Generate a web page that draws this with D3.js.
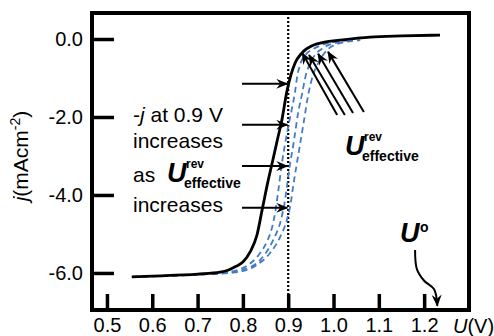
<!DOCTYPE html>
<html>
<head>
<meta charset="utf-8">
<script src="https://cdn.jsdelivr.net/npm/d3@7"></script>
<style>
  body { margin: 0; background: #fff; }
  svg { font-family: "Liberation Sans", Arial, Helvetica, sans-serif; }
</style>
</head>
<body>
<div id="chart"></div>
<script>
const w = 494, h = 336;

// tick values
const uTicks = [0.5, 0.6, 0.7, 0.8, 0.9, 1.0, 1.1, 1.2];
const jTicks = [0, -2, -4, -6];

// black solid curve
const blackU = [0.555, 0.60, 0.70, 0.75, 0.767, 0.785, 0.80, 0.816, 0.831, 0.843, 0.855, 0.866, 0.877, 0.886, 0.897, 0.906, 0.915, 0.93, 0.955, 0.98, 1.014, 1.081, 1.15, 1.235];
const blackJ = [-6.10, -6.08, -6.03, -5.98, -5.93, -5.83, -5.72, -5.46, -5.03, -4.35, -3.67, -3.11, -2.54, -2.08, -1.35, -0.92, -0.62, -0.36, -0.16, -0.08, -0.03, 0.05, 0.08, 0.10];

// blue dashed curves
const blue1U = [0.555, 0.70, 0.75, 0.78, 0.80, 0.82, 0.838, 0.852, 0.864, 0.872, 0.878, 0.886, 0.900, 0.908, 0.915, 0.920, 0.928, 0.940, 0.955, 0.975, 1.0, 1.03];
const blue1J = [-6.10, -6.04, -6.00, -5.95, -5.87, -5.72, -5.49, -5.22, -4.85, -4.40, -3.90, -3.20, -2.25, -1.80, -1.36, -0.95, -0.60, -0.38, -0.26, -0.15, -0.08, -0.04];
const blue2U = [0.555, 0.70, 0.76, 0.80, 0.838, 0.867, 0.884, 0.893, 0.902, 0.913, 0.921, 0.930, 0.939, 0.952, 0.977, 1.014];
const blue2J = [-6.10, -6.04, -6.00, -5.92, -5.67, -5.15, -4.64, -4.13, -3.36, -2.59, -1.95, -1.44, -0.92, -0.54, -0.23, -0.08];
const blue3U = [0.555, 0.70, 0.76, 0.794, 0.83, 0.860, 0.882, 0.897, 0.904, 0.913, 0.924, 0.935, 0.944, 0.955, 0.970, 1.003, 1.059];
const blue3J = [-6.10, -6.04, -6.01, -5.97, -5.80, -5.49, -5.08, -4.64, -4.31, -3.62, -2.85, -2.08, -1.44, -0.92, -0.54, -0.15, -0.03];

// annotation arrows (data units)
const hArrowJ = [-1.15, -2.2, -3.26, -4.33];
const hArrowFromU = 0.798, hArrowToU = 0.898;
const dTailU = [1.008, 1.025, 1.043, 1.067];
const dTailJ = [-1.95, -1.95, -1.90, -1.87];
const dTipU = [0.931, 0.946, 0.966, 0.988];
const dTipJ = [-0.36, -0.41, -0.38, -0.33];
const u0ArrowU = [1.180, 1.184, 1.200, 1.222, 1.229];
const u0ArrowJ = [-5.41, -5.90, -6.20, -6.42, -6.84];

const x = d3.scaleLinear().domain([0.467, 1.299]).range([92, 469]);
const y = d3.scaleLinear().domain([-6.95, 0.667]).range([310, 13]);

const svg = d3.select("#chart").append("svg").attr("width", w).attr("height", h);

svg.append("defs").append("marker")
  .attr("id", "head")
  .attr("markerUnits", "userSpaceOnUse")
  .attr("viewBox", "0 0 12 10")
  .attr("refX", 11).attr("refY", 5)
  .attr("markerWidth", 12).attr("markerHeight", 10)
  .attr("orient", "auto")
  .append("path")
  .attr("d", "M0,0 L12,5 L0,10 L4,5 Z")
  .attr("fill", "#000");

const line = d3.line().x((d) => x(d[0])).y((d) => y(d[1])).curve(d3.curveMonotoneX);
const zip = (a, b) => a.map((v, i) => [v, b[i]]);

// dotted line at 0.9 V
svg.append("line")
  .attr("x1", x(0.9)).attr("x2", x(0.9))
  .attr("y1", y.range()[1]).attr("y2", y.range()[0])
  .attr("stroke", "#000").attr("stroke-width", 2.2).attr("stroke-dasharray", "2,2");

// blue dashed
[[blue1U, blue1J], [blue2U, blue2J], [blue3U, blue3J]].forEach(([u, j]) => {
  svg.append("path").attr("d", line(zip(u, j)))
    .attr("fill", "none").attr("stroke", "#437bc6").attr("stroke-width", 1.8)
    .attr("stroke-dasharray", "6,4");
});

// black solid
svg.append("path").attr("d", line(zip(blackU, blackJ)))
  .attr("fill", "none").attr("stroke", "#000").attr("stroke-width", 2.8);

// axes
const yAxis = svg.append("g").attr("transform", `translate(${x.range()[0]},0)`)
  .call(d3.axisLeft(y).tickValues(jTicks).tickSize(-22).tickPadding(9).tickFormat((d) => d.toFixed(1)));
const xAxis = svg.append("g").attr("transform", `translate(0,${y.range()[0]})`)
  .call(d3.axisBottom(x).tickValues(uTicks).tickSize(-16).tickPadding(8).tickFormat((d) => d.toFixed(1)));
[xAxis, yAxis].forEach((g) => {
  g.select(".domain").remove();
  g.selectAll(".tick line").attr("stroke", "#000").attr("stroke-width", 3.5);
  g.selectAll(".tick text").attr("font-size", 20).attr("fill", "#000").attr("font-family", null);
});

// frame
svg.append("rect")
  .attr("x", x.range()[0]).attr("y", y.range()[1])
  .attr("width", x.range()[1] - x.range()[0]).attr("height", y.range()[0] - y.range()[1])
  .attr("fill", "none").attr("stroke", "#000").attr("stroke-width", 4);

// arrows
const arrows = svg.append("g").attr("stroke", "#000").attr("stroke-width", 2).attr("fill", "none");
hArrowJ.forEach((j) => {
  arrows.append("line")
    .attr("x1", x(hArrowFromU)).attr("x2", x(hArrowToU))
    .attr("y1", y(j)).attr("y2", y(j)).attr("marker-end", "url(#head)");
});
dTailU.forEach((u, i) => {
  arrows.append("line")
    .attr("x1", x(u)).attr("y1", y(dTailJ[i]))
    .attr("x2", x(dTipU[i])).attr("y2", y(dTipJ[i])).attr("marker-end", "url(#head)");
});
arrows.append("path")
  .attr("d", d3.line().x((d) => x(d[0])).y((d) => y(d[1])).curve(d3.curveCatmullRom)(zip(u0ArrowU, u0ArrowJ)))
  .attr("marker-end", "url(#head)");

// texts
const t = svg.append("g").attr("font-size", 21).attr("fill", "#000");
const l1 = t.append("text").attr("x", 133).attr("y", 122);
l1.append("tspan").text("-");
l1.append("tspan").attr("font-style", "italic").text("j");
l1.append("tspan").text(" at 0.9 V");
t.append("text").attr("x", 133).attr("y", 148).text("increases");
t.append("text").attr("x", 133).attr("y", 182).text("as");
t.append("text").attr("x", 133).attr("y", 212).text("increases");

function uRev(g, ux, uy) {
  g.append("text").attr("x", ux).attr("y", uy).attr("font-size", 27)
    .attr("font-weight", "bold").attr("font-style", "italic").text("U");
  g.append("text").attr("x", ux + 19).attr("y", uy - 14).attr("font-size", 12)
    .attr("font-weight", "bold").text("rev");
  g.append("text").attr("x", ux + 17).attr("y", uy + 6).attr("font-size", 14)
    .attr("font-weight", "bold").text("effective");
}
uRev(t, 167, 182);
uRev(t, 345, 155);

t.append("text").attr("x", 400).attr("y", 242).attr("font-size", 27)
  .attr("font-weight", "bold").attr("font-style", "italic").text("U");
t.append("text").attr("x", 420).attr("y", 232).attr("font-size", 14)
  .attr("font-weight", "bold").text("o");

const xl = t.append("text").attr("x", 453).attr("y", 333).attr("font-size", 20);
xl.append("tspan").attr("font-style", "italic").text("U");
xl.append("tspan").text("(V)");

const yl = t.append("text").attr("transform", "translate(28,156) rotate(-90)").attr("text-anchor", "middle");
yl.append("tspan").attr("font-style", "italic").text("j");
yl.append("tspan").text("(mAcm");
yl.append("tspan").attr("font-size", 14).attr("dy", -8).text("-2");
yl.append("tspan").attr("dy", 8).text(")");
</script>
</body>
</html>
